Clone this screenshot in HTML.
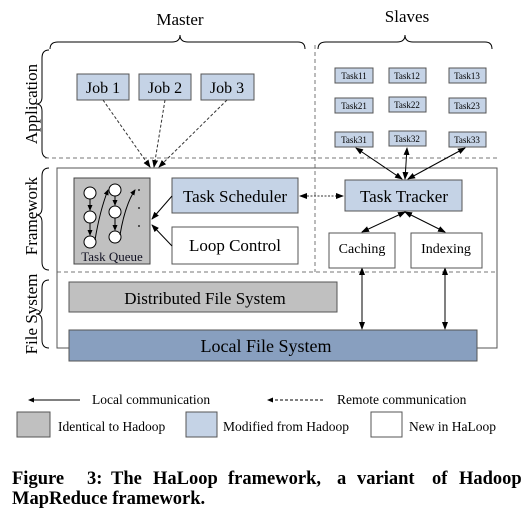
<!DOCTYPE html>
<html><head><style>
body{margin:0;background:#fff;}
svg text{font-family:"Liberation Serif",serif;fill:#000;}
</style></head><body>
<svg width="523" height="512" viewBox="0 0 523 512" xmlns="http://www.w3.org/2000/svg">
<defs>
<marker id="a" markerWidth="8" markerHeight="6" refX="7" refY="3" orient="auto" markerUnits="userSpaceOnUse"><path d="M0,0 L8,3 L0,6 z" fill="#000"/></marker>
<marker id="s" markerWidth="6" markerHeight="5" refX="5" refY="2.5" orient="auto" markerUnits="userSpaceOnUse"><path d="M0,0 L6,2.5 L0,5 z" fill="#000"/></marker>
<marker id="b" markerWidth="8" markerHeight="6" refX="1" refY="3" orient="auto" markerUnits="userSpaceOnUse"><path d="M8,0 L0,3 L8,6 z" fill="#000"/></marker>
</defs>
<g fill="none" stroke="#000" stroke-width="1">
<path d="M50,49 Q50,42 58,42 L172,42 Q180,42 180,35 Q180,42 188,42 L298,42 Q305,42 305,49"/>
<path d="M318,49 Q318,42 326,42 L397,42 Q405,42 405,35 Q405,42 413,42 L485,42 Q492,42 492,49"/>
<path d="M49,50 Q42,50 42,58 L42,97 Q42,104 36,104 Q42,104 42,111 L42,150 Q42,158 49,158"/>
<path d="M49,168 Q42,168 42,176 L42,208 Q42,215 36,215 Q42,215 42,222 L42,262 Q42,270 49,270"/>
<path d="M49,280 Q42,280 42,288 L42,307 Q42,314 36,314 Q42,314 42,321 L42,340 Q42,348 49,348"/>
</g>
<g stroke="#777" stroke-dasharray="4,3" fill="none">
<line x1="315" y1="45" x2="315" y2="272"/>
<line x1="45" y1="158" x2="497" y2="158"/>
<line x1="57" y1="272" x2="497" y2="272"/>
</g>
<rect x="57" y="168" width="440" height="180" fill="none" stroke="#555"/>
<text x="180" y="25" font-size="17" text-anchor="middle">Master</text>
<text x="407" y="22" font-size="17" text-anchor="middle">Slaves</text>
<text transform="translate(37,104) rotate(-90)" font-size="17" text-anchor="middle">Application</text>
<text transform="translate(37,216) rotate(-90)" font-size="17" text-anchor="middle">Framework</text>
<text transform="translate(37,314) rotate(-90)" font-size="17" text-anchor="middle">File System</text>
<g fill="#c5d3e6" stroke="#555">
<rect x="77" y="74" width="52" height="26"/><rect x="139" y="74" width="52" height="26"/><rect x="201" y="74" width="53" height="26"/>
</g>
<g font-size="16" text-anchor="middle"><text x="103" y="93">Job 1</text><text x="165" y="93">Job 2</text><text x="227" y="93">Job 3</text></g>
<g stroke="#333" stroke-dasharray="3,2" fill="none" marker-end="url(#a)">
<line x1="103" y1="100" x2="150" y2="167"/><line x1="165" y1="100" x2="154" y2="167"/><line x1="227" y1="100" x2="159" y2="167"/>
</g>
<g fill="#c5d3e6" stroke="#555">
<rect x="335" y="68" width="38" height="15"/><rect x="389" y="68" width="37" height="15"/><rect x="449" y="68" width="37" height="15"/>
<rect x="335" y="98" width="38" height="15"/><rect x="389" y="97" width="37" height="15"/><rect x="449" y="98" width="37" height="15"/>
<rect x="335" y="132" width="38" height="15"/><rect x="389" y="131" width="37" height="15"/><rect x="449" y="132" width="37" height="15"/>
</g>
<g font-size="9" text-anchor="middle" style="fill:#003">
<text x="354" y="79">Task11</text><text x="407" y="79">Task12</text><text x="467" y="79">Task13</text>
<text x="354" y="109">Task21</text><text x="407" y="108">Task22</text><text x="467" y="109">Task23</text>
<text x="354" y="143">Task31</text><text x="407" y="142">Task32</text><text x="467" y="143">Task33</text>
</g>
<g stroke="#000" fill="none" marker-start="url(#b)" marker-end="url(#a)">
<line x1="356" y1="148" x2="402" y2="179"/><line x1="407" y1="148" x2="405" y2="179"/><line x1="465" y1="148" x2="408" y2="179"/>
<line x1="405" y1="212" x2="362" y2="232"/><line x1="405" y1="212" x2="445" y2="232"/>
<line x1="362" y1="268" x2="362" y2="329"/><line x1="445" y1="268" x2="445" y2="329"/>
</g>
<rect x="74" y="178" width="76" height="86" fill="#c0c0c0" stroke="#444"/>
<text x="112" y="261" font-size="13" text-anchor="middle" style="fill:#112">Task Queue</text>
<g fill="#fff" stroke="#000">
<circle cx="90" cy="193" r="6"/><circle cx="90" cy="217" r="6"/><circle cx="90" cy="242" r="6"/>
<circle cx="115" cy="190" r="6"/><circle cx="115" cy="212" r="6"/><circle cx="115" cy="237" r="6"/>
</g>
<g stroke="#000" fill="none">
<line x1="90" y1="199" x2="90" y2="210" marker-end="url(#s)"/><line x1="90" y1="223" x2="90" y2="235" marker-end="url(#s)"/>
<line x1="115" y1="196" x2="115" y2="205" marker-end="url(#s)"/><line x1="115" y1="218" x2="115" y2="230" marker-end="url(#s)"/>
<path d="M95,240 Q100,210 108,190" marker-end="url(#s)"/><path d="M120,235 Q125,205 135,190" marker-end="url(#s)"/>
</g>
<g fill="#000"><circle cx="139" cy="190" r="0.9"/><circle cx="139" cy="208" r="0.9"/><circle cx="139" cy="226" r="0.9"/></g>
<rect x="172" y="178" width="126" height="35" fill="#c5d3e6" stroke="#555"/>
<text x="235" y="202" font-size="17" text-anchor="middle">Task Scheduler</text>
<rect x="172" y="227" width="126" height="37" fill="#fff" stroke="#555"/>
<text x="235" y="251" font-size="17" text-anchor="middle">Loop Control</text>
<g stroke="#000" fill="none" marker-end="url(#a)">
<line x1="172" y1="196" x2="152" y2="219"/><line x1="172" y1="246" x2="152" y2="225"/>
</g>
<line x1="300" y1="196" x2="343" y2="196" stroke="#333" stroke-dasharray="2,1.5" marker-start="url(#b)" marker-end="url(#a)"/>
<rect x="345" y="180" width="117" height="31" fill="#c5d3e6" stroke="#555"/>
<text x="404" y="202" font-size="17" text-anchor="middle">Task Tracker</text>
<rect x="329" y="233" width="66" height="35" fill="#fff" stroke="#555"/>
<text x="362" y="253" font-size="14" text-anchor="middle">Caching</text>
<rect x="411" y="233" width="71" height="35" fill="#fff" stroke="#555"/>
<text x="446" y="253" font-size="14" text-anchor="middle">Indexing</text>
<rect x="69" y="282" width="268" height="30" fill="#c0c0c0" stroke="#555"/>
<text x="205" y="304" font-size="17" text-anchor="middle">Distributed File System</text>
<rect x="69" y="330" width="408" height="31" fill="#889fbf" stroke="#555"/>
<text x="266" y="352" font-size="18" text-anchor="middle">Local File System</text>
<line x1="80" y1="400" x2="29" y2="400" stroke="#000" marker-end="url(#s)"/>
<text x="92" y="404" font-size="13.5">Local communication</text>
<line x1="323" y1="400" x2="268" y2="400" stroke="#000" stroke-dasharray="3,2" marker-end="url(#s)"/>
<text x="337" y="404" font-size="13.5">Remote communication</text>
<rect x="17" y="412" width="33" height="25" fill="#c0c0c0" stroke="#555"/>
<text x="58" y="431" font-size="13.5">Identical to Hadoop</text>
<rect x="186" y="412" width="31" height="25" fill="#c5d3e6" stroke="#555"/>
<text x="223" y="431" font-size="13.5">Modified from Hadoop</text>
<rect x="371" y="412" width="31" height="25" fill="#fff" stroke="#555"/>
<text x="409" y="431" font-size="13.5">New in HaLoop</text>
<g font-size="18.5" font-weight="bold">
<text x="12" y="484">Figure</text><text x="87" y="484">3:</text><text x="111" y="484">The</text><text x="153" y="484">HaLoop</text><text x="228" y="484">framework,</text><text x="337" y="484">a</text><text x="357" y="484">variant</text><text x="432" y="484">of</text><text x="459" y="484">Hadoop</text>
<text x="12" y="504">MapReduce framework.</text>
</g>
</svg>
</body></html>
